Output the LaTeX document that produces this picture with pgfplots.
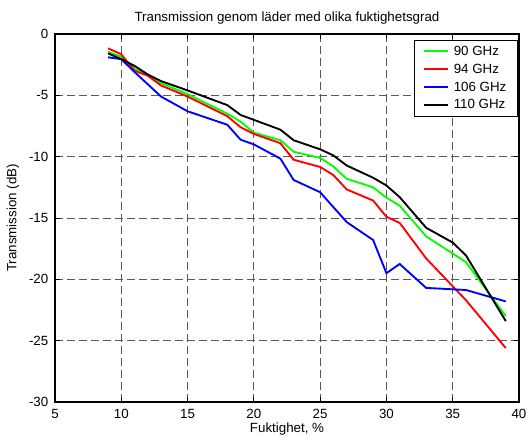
\documentclass[border=0pt]{standalone}
\usepackage{pgfplots}
\pgfplotsset{compat=1.18}
\usepackage{fontspec}
\setmainfont{Liberation Sans}

% Measured transmission through leather at four frequencies
\pgfplotstableread{
x y
9 -1.45
10 -1.85
11 -2.85
12 -3.35
13 -4.0
15 -4.9
18 -6.5
19 -7.15
20 -8.05
22 -8.66
23 -9.6
25 -10.1
26 -10.8
27 -11.8
29 -12.5
30 -13.35
31 -14.0
33 -16.5
36 -18.6
39 -23.0
}\ninety

\pgfplotstableread{
x y
9 -1.17
10 -1.65
11 -3.0
12 -3.4
13 -4.2
15 -5.1
18 -6.7
19 -7.6
20 -8.15
22 -8.9
23 -10.25
25 -10.84
26 -11.5
27 -12.67
29 -13.58
30 -14.9
31 -15.4
33 -18.3
36 -21.7
39 -25.6
}\ninetyfour

\pgfplotstableread{
x y
9 -1.9
10 -2.05
11 -3.1
13 -5.1
15 -6.3
18 -7.4
19 -8.62
20 -9.0
22 -10.16
23 -11.9
25 -12.9
27 -15.33
29 -16.8
30 -19.5
31 -18.75
33 -20.7
36 -20.87
39 -21.8
}\onehundredsix

\pgfplotstableread{
x y
9 -1.58
10 -2.05
11 -2.6
12 -3.3
13 -3.84
15 -4.6
18 -5.8
19 -6.6
20 -7.0
22 -7.8
23 -8.66
25 -9.4
26 -9.9
27 -10.72
29 -11.72
30 -12.35
31 -13.3
33 -15.8
35 -17.0
36 -18.05
39 -23.4
}\onehundredten

\begin{document}
\begin{tikzpicture}
\begin{axis}[
  scale only axis,
  width=348pt, height=276pt,
  xmin=5, xmax=40, ymin=-30, ymax=0,
  xtick={5,10,...,40},
  ytick={-30,-25,...,0},
  font=\fontsize{10}{12}\selectfont,
  /pgf/number format/assume math mode=true,
  tick align=inside,
  major tick length=4pt,
  tick style={black, line width=0.6pt},
  axis line style={black, line width=0.8pt},
  grid=major,
  major grid style={black!65, line width=0.6pt, dash pattern=on 6pt off 3pt},
  yticklabel style={xshift=-1.5pt},
  xticklabel style={yshift=-2pt},
  title={Transmission genom läder med olika fuktighetsgrad},
  title style={at={(axis description cs:0.5,1.011)}, anchor=base},
  xlabel={Fuktighet, \%},
  xlabel style={at={(axis description cs:0.5,-0.0833)}, anchor=base},
  ylabel={Transmission (dB)},
  ylabel style={at={(axis description cs:-0.0905,0.5)}, anchor=center},
  legend cell align=left,
  legend image code/.code={\draw[#1] (0pt,0pt) -- (18pt,0pt);},
  legend style={at={(axis description cs:0.997,0.984)}, anchor=north east,
    draw=black, line width=0.8pt, font=\fontsize{10}{12}\selectfont,
    inner xsep=6pt, inner ysep=2pt, row sep=1pt,
    /tikz/every odd column/.append style={column sep=2pt}},
  every axis plot/.append style={line width=1.4pt},
]
\addplot[color={rgb,1:red,0;green,1;blue,0}] table[x=x,y=y] {\ninety};
\addlegendentry{90 GHz}
\addplot[color={rgb,1:red,1;green,0;blue,0}] table[x=x,y=y] {\ninetyfour};
\addlegendentry{94 GHz}
\addplot[color={rgb,1:red,0;green,0;blue,1}] table[x=x,y=y] {\onehundredsix};
\addlegendentry{106 GHz}
\addplot[color=black] table[x=x,y=y] {\onehundredten};
\addlegendentry{110 GHz}
\end{axis}
\pgfresetboundingbox
\path[use as bounding box] (-41.25pt,-30pt) rectangle (355.5pt,301.5pt);
\end{tikzpicture}
\end{document}
